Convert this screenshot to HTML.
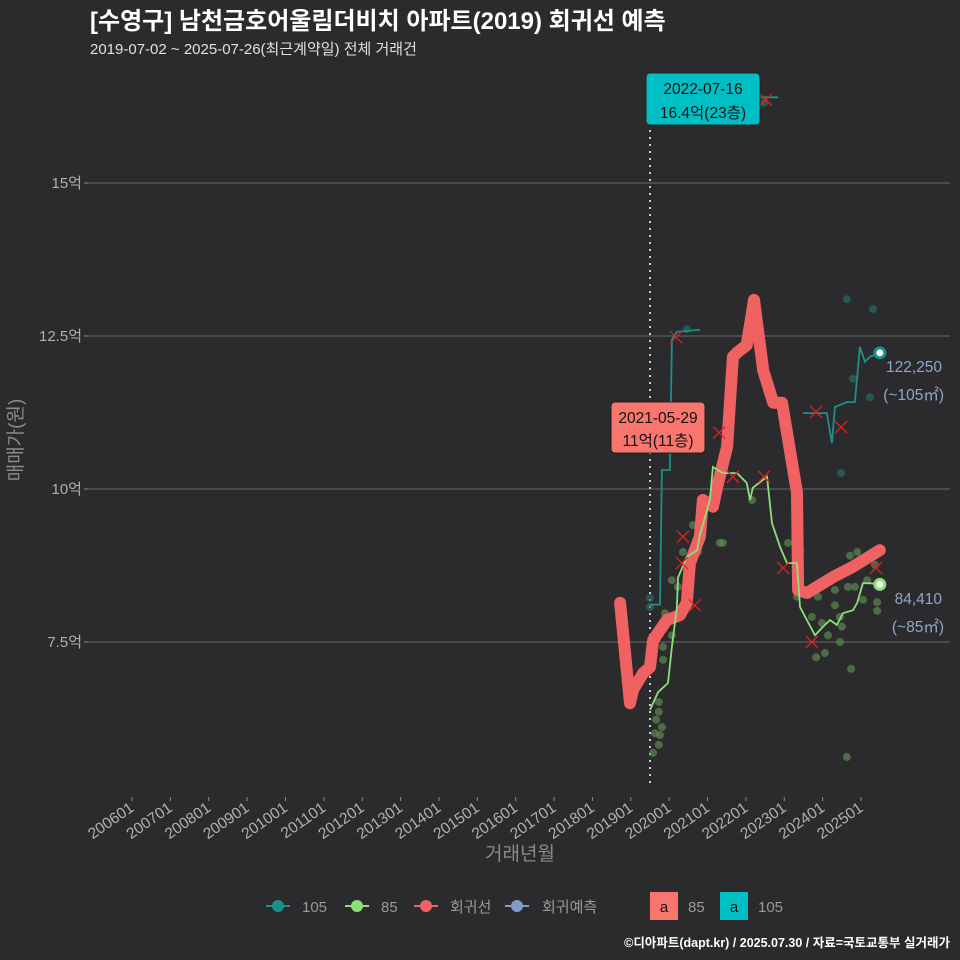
<!DOCTYPE html>
<html><head><meta charset="utf-8">
<style>
body{margin:0;background:#2b2b2d;}
svg{display:block;font-family:"Liberation Sans","Noto Sans CJK KR",sans-serif;}
</style></head>
<body>
<svg id="chart" width="960" height="960" viewBox="0 0 960 960">
<rect width="960" height="960" fill="#2b2b2d"/>
<text x="90" y="29" fill="#ffffff" font-size="24" font-weight="bold">[수영구] 남천금호어울림더비치 아파트(2019) 회귀선 예측</text>
<text x="90" y="54" fill="#e0e0e0" font-size="15">2019-07-02 ~ 2025-07-26(최근계약일) 전체 거래건</text>
<g id="grid"></g>
<g id="axes"></g>
<g id="marks"></g>
<g id="labels"></g>
<text transform="translate(22,440) rotate(-90)" text-anchor="middle" fill="#8a8a8a" font-size="19">매매가(원)</text>
<text x="520" y="860" text-anchor="middle" fill="#8a8a8a" font-size="19">거래년월</text>
<g font-size="15" fill="#9a9a9a">
 <g><line x1="266" y1="906" x2="290" y2="906" stroke="#1e8f8a" stroke-width="2"/><circle cx="278" cy="906" r="6" fill="#1e8f8a"/><text x="302" y="912">105</text></g>
 <g><line x1="345" y1="906" x2="369" y2="906" stroke="#8ce07a" stroke-width="2"/><circle cx="357" cy="906" r="6" fill="#8ce07a"/><text x="381" y="912">85</text></g>
 <g><line x1="414" y1="906" x2="438" y2="906" stroke="#f06262" stroke-width="2"/><circle cx="426" cy="906" r="6" fill="#f06262"/><text x="450" y="912">회귀선</text></g>
 <g><line x1="505" y1="906" x2="529" y2="906" stroke="#7f9cc8" stroke-width="2"/><circle cx="517" cy="906" r="6" fill="#7f9cc8"/><text x="542" y="912">회귀예측</text></g>
 <g><rect x="650" y="892" width="28" height="28" fill="#f8766d"/><text x="664" y="912" text-anchor="middle" fill="#111">a</text><text x="688" y="912">85</text></g>
 <g><rect x="720" y="892" width="28" height="28" fill="#00bfc4"/><text x="734" y="912" text-anchor="middle" fill="#111">a</text><text x="758" y="912">105</text></g>
</g>
<text x="950" y="947" text-anchor="end" fill="#ffffff" font-size="12.5" font-weight="bold">©디아파트(dapt.kr) / 2025.07.30 / 자료=국토교통부 실거래가</text>
</svg>
<script>
const yTicks=[7.5,10,12.5,15];
const yTickLabels=["7.5억","10억","12.5억","15억"];
const xTickYears=[2006,2007,2008,2009,2010,2011,2012,2013,2014,2015,2016,2017,2018,2019,2020,2021,2022,2023,2024,2025];
const xTickLabels=["200601","200701","200801","200901","201001","201101","201201","201301","201401","201501","201601","201701","201801","201901","202001","202101","202201","202301","202401","202501"];
const regT=[2018.72,2018.98,2019.06,2019.32,2019.50,2019.58,2019.94,2020.28,2020.46,2020.54,2020.80,2020.88,2021.14,2021.25,2021.51,2021.66,2021.79,2022.02,2022.21,2022.45,2022.71,2022.94,2023.33,2023.36,2023.59,2024.27,2024.79,2025.49];
const regV=[8.14,6.50,6.72,6.99,7.09,7.53,7.86,7.94,8.14,8.79,9.22,9.82,9.71,10.03,10.69,12.16,12.24,12.35,13.09,11.94,11.41,11.41,9.94,8.35,8.30,8.56,8.73,9.00];
const g85T=[2019.50,2019.71,2019.97,2020.07,2020.20,2020.23,2020.46,2020.73,2020.80,2021.06,2021.14,2021.40,2021.77,2022.02,2022.11,2022.18,2022.55,2022.68,2022.89,2023.07,2023.33,2023.41,2023.59,2023.80,2023.98,2024.19,2024.37,2024.53,2024.79,2024.90,2025.05,2025.23,2025.49];
const g85V=[6.39,6.68,6.83,7.42,8.07,8.55,8.89,9.00,9.25,9.82,10.36,10.26,10.26,10.10,9.82,10.02,10.20,9.44,9.05,8.79,8.79,8.07,7.86,7.61,7.73,7.86,7.78,7.97,8.02,8.14,8.46,8.46,8.441];
const g105T=[2019.50,2019.76,2019.81,2019.94,2020.02,2020.07,2020.20,2020.80,null,2022.37,2022.84,null,2023.49,2024.11,2024.24,2024.32,2024.63,2024.84,2024.97,2025.10,2025.23,2025.49];
const g105V=[8.11,8.11,10.31,10.31,10.31,12.44,12.57,12.60,null,16.40,16.40,null,11.24,11.24,10.75,11.34,11.42,11.42,12.32,12.08,12.16,12.225];
const dot85T=[2019.73,2019.73,2019.66,2019.81,2019.63,2019.76,2019.73,2019.58,2020.07,2020.23,2019.89,2020.07,2019.84,2019.84,2020.36,2020.62,2020.75,2021.32,2021.40,2022.16,2023.10,2023.41,2023.33,2023.88,2023.72,2023.98,2024.32,2024.32,2024.66,2024.84,2024.71,2024.90,2025.16,2025.36,2025.05,2025.42,2025.42,2024.45,2024.50,2024.45,2024.14,2024.06,2023.83,2024.74,2024.63];
const dot85V=[6.52,6.36,6.23,6.11,6.01,5.98,5.82,5.69,8.51,8.40,7.97,7.61,7.42,7.21,8.97,9.41,8.97,9.12,9.12,9.82,9.12,9.00,8.24,8.24,7.91,7.81,8.10,8.35,8.40,8.40,8.91,8.97,8.51,8.76,8.19,8.15,8.01,7.91,7.75,7.50,7.61,7.32,7.25,7.06,5.62];
const dot105T=[2019.50,2019.50,2024.63,2025.31,2025.23,2024.79,2024.48,2020.46,2022.47];
const dot105V=[8.22,8.07,13.10,12.94,11.50,11.80,10.26,12.61,16.31];
const xMarkT=[2020.36,2020.33,2020.67,2022.97,2023.72,2025.39,2020.18,2021.30,2021.66,2022.47,2023.83,2024.48,2022.52];
const xMarkV=[9.22,8.79,8.10,8.71,7.50,8.71,12.48,10.92,10.20,10.20,11.26,11.01,16.36];

const X=t=>132+(t-2006)*38.37;
const Y=v=>489-(v-10)*61.2;
const NS="http://www.w3.org/2000/svg";
function mk(tag,parent,attrs){const e=document.createElementNS(NS,tag);for(const k in attrs)e.setAttribute(k,attrs[k]);parent.appendChild(e);return e;}
const grid=document.getElementById('grid'),axes=document.getElementById('axes'),marks=document.getElementById('marks'),labels=document.getElementById('labels');

yTicks.forEach((v,i)=>{
 const l=mk('line',grid,{x1:88,x2:950,y1:Y(v),y2:Y(v),stroke:'#6a6a6a','stroke-width':1});
 
 
 const tk=mk('line',axes,{x1:84,x2:88,y1:Y(v),y2:Y(v),stroke:'#888'});
 
 
 const t=mk('text',axes,{x:82,y:Y(v)+5,'text-anchor':'end',fill:'#b0b0b0','font-size':15});
 t.textContent=yTickLabels[i];
 
 
});
xTickYears.forEach((yr,i)=>{
 const x=X(yr);
 const tk=mk('line',axes,{x1:x,x2:x,y1:797,y2:801,stroke:'#888'});
 
 
 const t=mk('text',axes,{transform:`translate(${x+3},${810}) rotate(-35)`,'text-anchor':'end',fill:'#b0b0b0','font-size':15.5});
 t.textContent=xTickLabels[i];
 
 
});
const dl=mk('line',marks,{x1:X(2019.5),x2:X(2019.5),y1:95,y2:785,stroke:'#cfcfcf','stroke-width':2,'stroke-dasharray':'2,5'});



dot105T.forEach((t,i)=>{
 const c=mk('circle',marks,{cx:X(t),cy:Y(dot105V[i]),r:4,fill:'#2a6e6a','fill-opacity':0.65});
 
 
});
dot85T.forEach((t,i)=>{
 const c=mk('circle',marks,{cx:X(t),cy:Y(dot85V[i]),r:4,fill:'#5f8f55','fill-opacity':0.65});
 
 
});
function pathFrom(T,V){let d='',pen=false;T.forEach((t,i)=>{if(t===null){pen=false;return;}d+=(pen?'L':'M')+X(t).toFixed(1)+','+Y(V[i]).toFixed(1);pen=true;});return d;}
const rp=mk('path',marks,{d:pathFrom(regT,regV),fill:'none',stroke:'#f06262','stroke-width':12,'stroke-linejoin':'round','stroke-linecap':'round'});


const p105=mk('path',marks,{d:pathFrom(g105T,g105V),fill:'none',stroke:'#1e8f8a','stroke-width':1.8});


const p85=mk('path',marks,{d:pathFrom(g85T,g85V),fill:'none',stroke:'#8ce07a','stroke-width':1.8});


xMarkT.forEach((t,i)=>{
 const x=X(t),y=Y(xMarkV[i]);
 const g=mk('path',marks,{d:`M${x-6},${y-6}L${x+6},${y+6}M${x-6},${y+6}L${x+6},${y-6}`,stroke:'#e02020','stroke-width':1.3});
 
 
});
const e105=mk('circle',marks,{cx:X(g105T[g105T.length-1]),cy:Y(g105V[g105V.length-1]),r:5,fill:'#fff',stroke:'#1e8f8a','stroke-width':3});


const e85=mk('circle',marks,{cx:X(g85T[g85T.length-1]),cy:Y(g85V[g85V.length-1]),r:5,fill:'#fff',stroke:'#8ce07a','stroke-width':3});


</script>
<svg width="960" height="960" style="position:absolute;left:0;top:0" font-family="Liberation Sans, Noto Sans CJK KR, sans-serif">
 <g><rect x="611" y="402" width="94" height="51" rx="4" fill="#f8766d" stroke="#222"/><text x="658" y="423" text-anchor="middle" font-size="15.5" fill="#111">2021-05-29</text><text x="658" y="446" text-anchor="middle" font-size="15.5" fill="#111">11억(11층)</text></g>
 <g><rect x="646" y="73" width="114" height="52" rx="4" fill="#00bfc4" stroke="#222"/><text x="703" y="94" text-anchor="middle" font-size="15.5" fill="#111">2022-07-16</text><text x="703" y="118" text-anchor="middle" font-size="15.5" fill="#111">16.4억(23층)</text></g>
 <g fill="#8fa8c8" font-size="15.5" text-anchor="end">
  <text x="942" y="372">122,250</text>
  <text x="944" y="400">(~105㎡)</text>
  <text x="942" y="604">84,410</text>
  <text x="944" y="632">(~85㎡)</text>
 </g>
</svg>
</body></html>
